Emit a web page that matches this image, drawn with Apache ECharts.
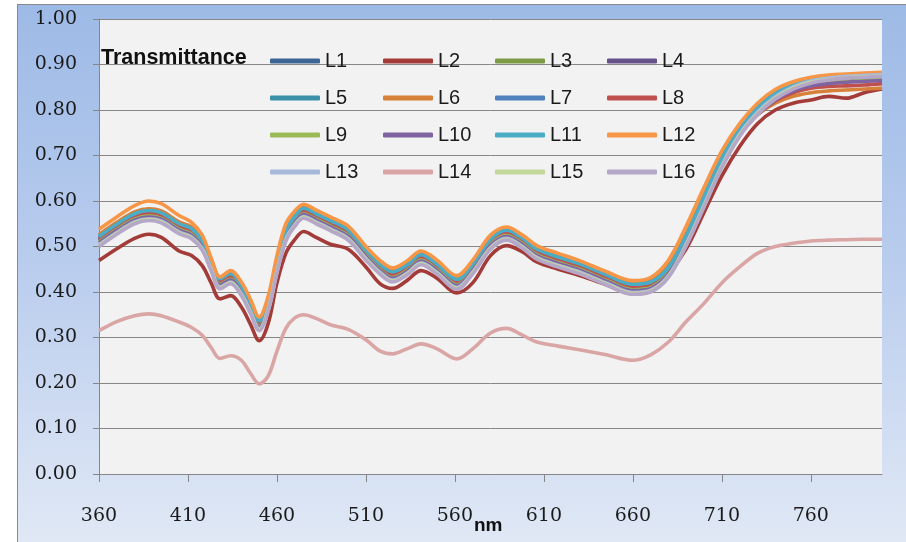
<!DOCTYPE html>
<html>
<head>
<meta charset="utf-8">
<script src="https://cdn.jsdelivr.net/npm/echarts@6/dist/echarts.min.js"></script>
<style>
html,body{margin:0;padding:0;background:#ffffff;}
#bg{position:absolute;left:17px;top:4px;width:889px;height:538px;box-sizing:border-box;
border-left:1px solid #8a8a8a;border-top:1px solid #8a8a8a;
background:linear-gradient(to bottom,#9dbae6 0%,#b7cbed 45%,#e0e8f5 100%);}
#chart{position:absolute;left:0;top:0;width:906px;height:542px;}
</style>
</head>
<body>
<div id="bg"></div>
<div id="chart"></div>
<script>
// wavelengths (nm) of the sampled points
const wavelengths = [360,370,380,388,395,405,412,418,423,428,434,440,445,450,455,460,465,470,475,482,490,500,510,518,525,533,541,550,561,570,580,589,598,606,618,630,645,660,670,680,690,700,710,720,730,740,750,760,770,780,790,800];

const seriesNames = ['L1','L2','L3','L4','L5','L6','L7','L8','L9','L10','L11','L12','L13','L14','L15','L16'];

const L1 = [0.520,0.547,0.570,0.577,0.572,0.548,0.537,0.512,0.467,0.427,0.438,0.412,0.374,0.335,0.377,0.462,0.532,0.564,0.582,0.570,0.555,0.534,0.490,0.459,0.442,0.457,0.480,0.459,0.426,0.460,0.514,0.534,0.516,0.492,0.475,0.460,0.436,0.415,0.420,0.452,0.522,0.607,0.692,0.757,0.802,0.834,0.854,0.865,0.870,0.873,0.875,0.877];
const L2 = [0.469,0.495,0.518,0.527,0.520,0.490,0.480,0.458,0.420,0.385,0.392,0.367,0.330,0.293,0.330,0.420,0.485,0.515,0.533,0.520,0.505,0.494,0.455,0.418,0.408,0.425,0.447,0.430,0.398,0.420,0.480,0.502,0.488,0.466,0.450,0.436,0.416,0.396,0.402,0.440,0.495,0.575,0.655,0.720,0.770,0.800,0.815,0.822,0.830,0.826,0.838,0.846];
const L3 = [0.512,0.539,0.562,0.569,0.564,0.540,0.529,0.504,0.459,0.419,0.430,0.404,0.366,0.327,0.369,0.454,0.524,0.556,0.574,0.562,0.547,0.526,0.482,0.451,0.434,0.449,0.472,0.451,0.418,0.452,0.506,0.526,0.508,0.484,0.467,0.452,0.428,0.407,0.412,0.444,0.514,0.599,0.684,0.749,0.794,0.826,0.846,0.857,0.862,0.865,0.867,0.869];
const L4 = [0.514,0.541,0.564,0.571,0.566,0.542,0.531,0.506,0.461,0.421,0.432,0.406,0.368,0.329,0.371,0.456,0.526,0.558,0.576,0.564,0.549,0.528,0.484,0.453,0.436,0.451,0.474,0.453,0.420,0.454,0.508,0.528,0.510,0.486,0.469,0.454,0.430,0.409,0.414,0.446,0.516,0.601,0.686,0.751,0.796,0.828,0.848,0.859,0.864,0.867,0.869,0.871];
const L5 = [0.524,0.551,0.574,0.581,0.576,0.552,0.541,0.516,0.471,0.431,0.442,0.416,0.378,0.339,0.381,0.466,0.536,0.568,0.586,0.574,0.559,0.538,0.494,0.463,0.446,0.461,0.484,0.463,0.430,0.464,0.518,0.538,0.520,0.496,0.479,0.464,0.440,0.419,0.424,0.456,0.526,0.611,0.696,0.761,0.806,0.838,0.858,0.869,0.874,0.877,0.879,0.881];
const L6 = [0.526,0.553,0.576,0.583,0.578,0.554,0.543,0.518,0.473,0.433,0.444,0.418,0.380,0.341,0.383,0.468,0.538,0.570,0.588,0.576,0.561,0.540,0.496,0.465,0.448,0.463,0.486,0.465,0.432,0.466,0.520,0.540,0.522,0.498,0.481,0.466,0.442,0.421,0.426,0.458,0.528,0.612,0.692,0.750,0.790,0.815,0.830,0.838,0.842,0.844,0.846,0.848];
const L7 = [0.518,0.545,0.568,0.575,0.570,0.546,0.535,0.510,0.465,0.425,0.436,0.410,0.372,0.333,0.375,0.460,0.530,0.562,0.580,0.568,0.553,0.532,0.488,0.457,0.440,0.455,0.478,0.457,0.424,0.458,0.512,0.532,0.514,0.490,0.473,0.458,0.434,0.413,0.418,0.450,0.520,0.605,0.690,0.755,0.800,0.832,0.852,0.863,0.868,0.871,0.873,0.875];
const L8 = [0.516,0.543,0.566,0.573,0.568,0.544,0.533,0.508,0.463,0.423,0.434,0.408,0.370,0.331,0.373,0.458,0.528,0.560,0.578,0.566,0.551,0.530,0.486,0.455,0.438,0.453,0.476,0.455,0.422,0.456,0.510,0.530,0.512,0.488,0.471,0.456,0.432,0.411,0.414,0.444,0.512,0.596,0.680,0.745,0.790,0.820,0.838,0.848,0.852,0.853,0.855,0.858];
const L9 = [0.510,0.537,0.560,0.567,0.562,0.538,0.527,0.502,0.457,0.417,0.428,0.402,0.364,0.325,0.367,0.452,0.522,0.554,0.572,0.560,0.545,0.524,0.480,0.449,0.432,0.447,0.470,0.449,0.416,0.450,0.504,0.524,0.506,0.482,0.465,0.450,0.426,0.405,0.410,0.442,0.512,0.597,0.682,0.747,0.792,0.824,0.844,0.855,0.860,0.863,0.865,0.867];
const L10 = [0.508,0.535,0.558,0.565,0.560,0.536,0.525,0.500,0.455,0.415,0.426,0.400,0.362,0.323,0.365,0.450,0.520,0.552,0.570,0.558,0.543,0.522,0.478,0.447,0.430,0.445,0.468,0.447,0.414,0.448,0.502,0.522,0.504,0.480,0.463,0.448,0.424,0.403,0.408,0.440,0.510,0.595,0.680,0.745,0.790,0.822,0.842,0.853,0.858,0.861,0.863,0.865];
const L11 = [0.522,0.549,0.572,0.579,0.574,0.550,0.539,0.514,0.469,0.429,0.440,0.414,0.376,0.337,0.379,0.464,0.534,0.566,0.584,0.572,0.557,0.536,0.492,0.461,0.444,0.459,0.482,0.461,0.428,0.462,0.516,0.536,0.518,0.494,0.477,0.462,0.438,0.417,0.422,0.454,0.524,0.609,0.694,0.759,0.804,0.836,0.856,0.867,0.872,0.875,0.877,0.879];
const L12 = [0.538,0.565,0.590,0.600,0.594,0.568,0.553,0.525,0.475,0.433,0.447,0.422,0.385,0.345,0.390,0.480,0.550,0.578,0.593,0.580,0.565,0.545,0.500,0.469,0.453,0.468,0.490,0.470,0.436,0.470,0.525,0.543,0.525,0.502,0.485,0.469,0.445,0.425,0.432,0.470,0.545,0.630,0.710,0.770,0.815,0.845,0.862,0.872,0.877,0.879,0.881,0.883];
const L13 = [0.504,0.531,0.554,0.561,0.556,0.532,0.521,0.496,0.451,0.411,0.422,0.396,0.358,0.319,0.361,0.446,0.516,0.548,0.566,0.554,0.539,0.518,0.474,0.443,0.426,0.441,0.464,0.443,0.410,0.444,0.498,0.518,0.500,0.476,0.459,0.444,0.420,0.399,0.404,0.436,0.506,0.591,0.678,0.747,0.795,0.829,0.851,0.864,0.870,0.874,0.876,0.878];
const L14 = [0.315,0.335,0.348,0.352,0.348,0.334,0.322,0.305,0.278,0.254,0.260,0.250,0.222,0.198,0.215,0.270,0.320,0.343,0.350,0.342,0.328,0.318,0.295,0.270,0.264,0.275,0.286,0.275,0.253,0.275,0.310,0.320,0.305,0.290,0.281,0.273,0.262,0.250,0.262,0.290,0.335,0.375,0.420,0.455,0.485,0.500,0.507,0.512,0.514,0.515,0.516,0.516];
const L15 = [0.502,0.529,0.552,0.559,0.554,0.530,0.519,0.494,0.449,0.409,0.420,0.394,0.356,0.317,0.359,0.444,0.514,0.546,0.564,0.552,0.537,0.516,0.472,0.441,0.424,0.439,0.462,0.441,0.408,0.442,0.496,0.516,0.498,0.474,0.457,0.442,0.418,0.397,0.402,0.434,0.504,0.589,0.675,0.744,0.792,0.826,0.848,0.861,0.867,0.871,0.873,0.875];
const L16 = [0.500,0.527,0.550,0.557,0.552,0.528,0.517,0.492,0.447,0.407,0.418,0.392,0.354,0.315,0.357,0.442,0.512,0.544,0.562,0.550,0.535,0.514,0.470,0.439,0.422,0.437,0.460,0.439,0.406,0.440,0.494,0.514,0.496,0.472,0.455,0.440,0.416,0.395,0.400,0.432,0.502,0.587,0.673,0.742,0.790,0.824,0.846,0.859,0.866,0.870,0.872,0.874];

const seriesValues = [L1,L2,L3,L4,L5,L6,L7,L8,L9,L10,L11,L12,L13,L14,L15,L16];

const xTickLabels = [360,410,460,510,560,610,660,710,760];
const yTickLabels = ['0.00','0.10','0.20','0.30','0.40','0.50','0.60','0.70','0.80','0.90','1.00'];

const colors = ['#3d6596','#a33b39','#7e9b45','#67518a','#3b91a7','#d6803a','#4f81bd','#c0504d','#9bbb59','#8064a2','#4bacc6','#f79646','#a7b9d9','#d9a6a5','#c4d79b','#b4a7c8'];

const chart = echarts.init(document.getElementById('chart'), null, {renderer:'canvas'});

const serif = 'DejaVu Serif';
const sans = 'Liberation Sans';

const series = seriesNames.map((n,i)=>({
  name:n, type:'line', smooth:0.35, symbol:'none', z: 3,
  data: wavelengths.map((w,j)=>[w, seriesValues[i][j]]),
  lineStyle:{width:3.6, color:colors[i]},
  itemStyle:{color:colors[i]}
}));

const legendCols = [270,383,495,607];
const legendRows = [61,98,135,172];
const legends = seriesNames.map((n,i)=>({
  data:[n], left:legendCols[i%4], top:legendRows[Math.floor(i/4)]-10,
  padding:0, itemWidth:50, itemHeight:5, icon:'roundRect', itemGap:0,
  selectedMode:false,
  textStyle:{fontFamily:sans, fontSize:20, color:'#1a1a1a', lineHeight:20, padding:[0,0,0,0]}
}));

chart.setOption({
  animation:false,
  backgroundColor:'transparent',
  color:colors,
  title:{text:'Transmittance', left:101, top:47, padding:0,
    textStyle:{fontFamily:sans, fontWeight:'bold', fontSize:21.5, color:'#111'}},
  legend:legends,
  graphic:[{type:'text', left:474, top:516, z:10,
    style:{text:'nm', font:'bold 19px "Liberation Sans"', fill:'#111'}}],
  grid:{left:99, right:24, top:19, bottom:68, show:true, backgroundColor:'#f2f2f2', borderWidth:0, outerBoundsMode:'none', containLabel:false},
  xAxis:{
    type:'value', min:360, max:800, interval:50,
    axisLine:{lineStyle:{color:'#868686', width:1}},
    axisTick:{show:true, length:8, inside:false, customValues:xTickLabels, lineStyle:{color:'#868686'}},
    axisLabel:{customValues:xTickLabels, margin:33, fontFamily:serif, fontSize:19, color:'#1a1a1a', verticalAlign:'top', lineHeight:19},
    splitLine:{show:false}
  },
  yAxis:{
    type:'value', min:0, max:1, interval:0.1,
    axisLine:{show:true, lineStyle:{color:'#868686', width:1}},
    axisTick:{show:true, length:6, lineStyle:{color:'#868686'}},
    axisLabel:{margin:22, fontFamily:serif, fontSize:19, color:'#1a1a1a',
      formatter:(v)=>yTickLabels[Math.round(v*10)]},
    splitLine:{show:true, lineStyle:{color:'#868686', width:1}}
  },
  series:series
});
</script>
</body>
</html>
